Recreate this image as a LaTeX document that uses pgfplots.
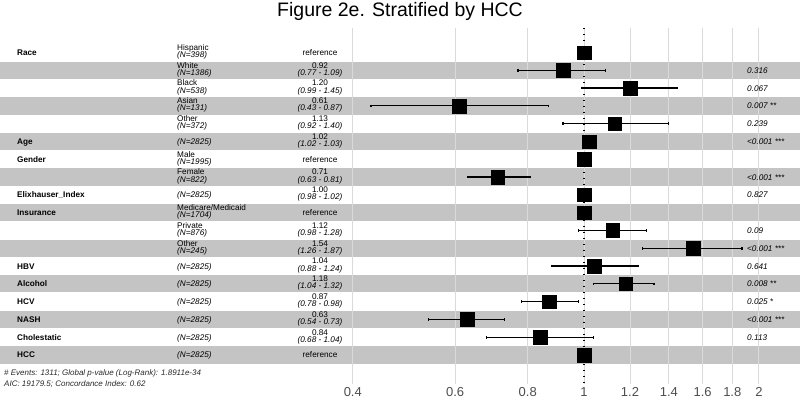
\documentclass[border=0pt]{standalone}
\usepackage{fontspec}
\setmainfont{Liberation Sans}
\usepackage{pgfplots}
\pgfplotsset{compat=1.18}
\definecolor{stripec}{RGB}{196,196,196}
\definecolor{gridc}{RGB}{218,218,218}
\definecolor{tickc}{RGB}{77,77,77}
\definecolor{annc}{RGB}{40,40,40}
\newcommand\vfont{\fontsize{8.2}{8.5}\selectfont}
\newcommand\VN[2]{\node[anchor=base west,font=\vfont\bfseries,yshift=-3pt,inner sep=0pt] at (axis cs:17,#1) {#2};}
\newcommand\LV[3]{\node[anchor=base west,font=\vfont,yshift=2.2pt,inner sep=0pt] at (axis cs:177,#1) {#2};
 \node[anchor=base west,font=\vfont\itshape,yshift=-5pt,inner sep=0pt] at (axis cs:177,#1) {(N=#3)};}
\newcommand\LN[2]{\node[anchor=base west,font=\vfont\itshape,yshift=-3pt,inner sep=0pt] at (axis cs:177,#1) {(N=#2)};}
\newcommand\ES[4]{\node[anchor=base,font=\vfont,yshift=2.2pt,inner sep=0pt] at (axis cs:320,#1) {#2};
 \node[anchor=base,font=\vfont\itshape,yshift=-5pt,inner sep=0pt] at (axis cs:320,#1) {(#3 - #4)};}
\newcommand\RF[1]{\node[anchor=base,font=\vfont,yshift=-3pt,inner sep=0pt] at (axis cs:320,#1) {reference};}
\newcommand\PV[2]{\node[anchor=base west,font=\vfont\itshape,yshift=-3pt,inner sep=0pt] at (axis cs:747,#1) {#2};}
\pgfplotsset{myax/.style={scale only axis,width=800pt,height=356pt,ymin=-0.377,ymax=19.63,y dir=reverse,clip=false}}
\begin{document}
\begin{tikzpicture}
% stripes
\begin{axis}[myax,xmin=0,xmax=800,hide axis]
\fill[stripec] (axis cs:0,1.514) rectangle (axis cs:800,2.486);
\fill[stripec] (axis cs:0,3.514) rectangle (axis cs:800,4.486);
\fill[stripec] (axis cs:0,5.514) rectangle (axis cs:800,6.486);
\fill[stripec] (axis cs:0,7.514) rectangle (axis cs:800,8.486);
\fill[stripec] (axis cs:0,9.514) rectangle (axis cs:800,10.486);
\fill[stripec] (axis cs:0,11.514) rectangle (axis cs:800,12.486);
\fill[stripec] (axis cs:0,13.514) rectangle (axis cs:800,14.486);
\fill[stripec] (axis cs:0,15.514) rectangle (axis cs:800,16.486);
\fill[stripec] (axis cs:0,17.514) rectangle (axis cs:800,18.486);
\end{axis}
% forest plot
\begin{axis}[myax,xmode=log,xmin=0.09881,xmax=2.354,
  axis line style={draw=none},ytick=\empty,
  xtick={0.4,0.6,0.8,1,1.2,1.4,1.6,1.8,2},
  xticklabels={0.4,0.6,0.8,1,1.2,1.4,1.6,1.8,2},
  major tick length=0pt,xmajorgrids,
  grid style={draw=gridc,line width=0.9pt},
  xticklabel style={font=\fontsize{13}{14}\selectfont,text=tickc}]
\addplot[black,line width=1.2pt,dash pattern=on 1.3pt off 4.7pt] coordinates {(1,-0.377) (1,19.63)};
\addplot[black,line width=1.2pt,mark=|,mark size=1.3pt,unbounded coords=jump] table[row sep=\\] {
x y\\
0.77 2\\ 1.09 2\\ nan nan\\
0.99 3\\ 1.45 3\\ nan nan\\
0.43 4\\ 0.87 4\\ nan nan\\
0.92 5\\ 1.40 5\\ nan nan\\
1.02 6\\ 1.03 6\\ nan nan\\
0.63 8\\ 0.81 8\\ nan nan\\
0.98 9\\ 1.02 9\\ nan nan\\
0.98 11\\ 1.28 11\\ nan nan\\
1.26 12\\ 1.87 12\\ nan nan\\
0.88 13\\ 1.24 13\\ nan nan\\
1.04 14\\ 1.32 14\\ nan nan\\
0.78 15\\ 0.98 15\\ nan nan\\
0.54 16\\ 0.73 16\\ nan nan\\
0.68 17\\ 1.04 17\\
};
\addplot[only marks,mark=square*,mark size=6.8pt,mark options={fill=black,draw=black,line width=0.3pt}] table[row sep=\\] {
x y\\
1 1\\ 0.92 2\\ 1.20 3\\ 0.61 4\\ 1.13 5\\ 1.02 6\\ 1 7\\ 0.71 8\\ 1.00 9\\
1 10\\ 1.12 11\\ 1.54 12\\ 1.04 13\\ 1.18 14\\ 0.87 15\\ 0.63 16\\ 0.84 17\\ 1 18\\
};
\end{axis}
% text
\begin{axis}[myax,xmin=0,xmax=800,hide axis]
\node[font=\fontsize{19.5}{20}\selectfont,anchor=base,inner sep=0pt] at (axis cs:400,-1.012) {Figure 2e. Stratified by HCC};
\VN{1}{Race} \LV{1}{Hispanic}{398} \RF{1}
\LV{2}{White}{1386} \ES{2}{0.92}{0.77}{1.09} \PV{2}{0.316}
\LV{3}{Black}{538} \ES{3}{1.20}{0.99}{1.45} \PV{3}{0.067}
\LV{4}{Asian}{131} \ES{4}{0.61}{0.43}{0.87} \PV{4}{0.007 **}
\LV{5}{Other}{372} \ES{5}{1.13}{0.92}{1.40} \PV{5}{0.239}
\VN{6}{Age} \LN{6}{2825} \ES{6}{1.02}{1.02}{1.03} \PV{6}{<0.001 ***}
\VN{7}{Gender} \LV{7}{Male}{1995} \RF{7}
\LV{8}{Female}{822} \ES{8}{0.71}{0.63}{0.81} \PV{8}{<0.001 ***}
\VN{9}{Elixhauser\_Index} \LN{9}{2825} \ES{9}{1.00}{0.98}{1.02} \PV{9}{0.827}
\VN{10}{Insurance} \LV{10}{Medicare/Medicaid}{1704} \RF{10}
\LV{11}{Private}{876} \ES{11}{1.12}{0.98}{1.28} \PV{11}{0.09}
\LV{12}{Other}{245} \ES{12}{1.54}{1.26}{1.87} \PV{12}{<0.001 ***}
\VN{13}{HBV} \LN{13}{2825} \ES{13}{1.04}{0.88}{1.24} \PV{13}{0.641}
\VN{14}{Alcohol} \LN{14}{2825} \ES{14}{1.18}{1.04}{1.32} \PV{14}{0.008 **}
\VN{15}{HCV} \LN{15}{2825} \ES{15}{0.87}{0.78}{0.98} \PV{15}{0.025 *}
\VN{16}{NASH} \LN{16}{2825} \ES{16}{0.63}{0.54}{0.73} \PV{16}{<0.001 ***}
\VN{17}{Cholestatic} \LN{17}{2825} \ES{17}{0.84}{0.68}{1.04} \PV{17}{0.113}
\VN{18}{HCC} \LN{18}{2825} \RF{18}
\node[anchor=base west,font=\fontsize{8}{8.5}\selectfont\itshape,text=annc,inner sep=0pt] at (axis cs:4,19.128) {\# Events: 1311; Global p-value (Log-Rank): 1.8911e-34};
\node[anchor=base west,font=\fontsize{8}{8.5}\selectfont\itshape,text=annc,inner sep=0pt] at (axis cs:4,19.747) {AIC: 19179.5; Concordance Index: 0.62};
\end{axis}
\pgfresetboundingbox
\path ([yshift=-16pt]current axis.south west) rectangle ([yshift=28pt]current axis.north east);
\end{tikzpicture}
\end{document}
